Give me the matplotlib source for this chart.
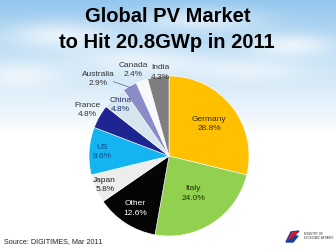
import matplotlib.pyplot as plt
import numpy as np
from matplotlib.patches import Polygon

# data
countries = ["Germany", "Italy", "Other", "Japan", "US", "France",
             "China", "Australia", "Canada", "India"]
shares = [28.8, 24.0, 12.6, 5.8, 9.6, 4.8, 4.8, 2.9, 2.4, 4.3]
colors = ["#FFC000", "#92D050", "#050505", "#EDEDED", "#14B4F0", "#1E2591",
          "#D7E6EE", "#8A8CC8", "#F8F8FC", "#7F7F7F"]
text_colors = ["#3a3000", "#1f3300", "white", "#222222", "#1a3f8a", "#333333",
               "#1a2f6a", "#333333", "#333333", "#333333"]
label_r = [0.64, 0.56, 0.78, 0.88, 0.84, 1.17, 0.88, 1.31, 1.16, 1.05]
label_ang = {"Australia": 132.7, "Canada": 112.5, "India": 96.0}

plt.rcParams["font.family"] = ["Liberation Sans", "DejaVu Sans"]

fig = plt.figure(figsize=(3.36, 2.52), dpi=100)

# sky background fading into white
bg = fig.add_axes([0, 0, 1, 1])
h, w = 252, 336
yy, xx = np.mgrid[0:h, 0:w]
t = np.clip(yy / 135.0, 0, 1)
sky = np.array([0.58, 0.78, 0.93])
img = sky[None, None, :] * (1 - t[..., None]) + t[..., None]
clouds = np.zeros((h, w))
for cx, cy, sx, sy, a in [(60, 35, 55, 14, 0.7), (200, 20, 60, 12, 0.6),
                          (290, 45, 45, 12, 0.7), (140, 60, 70, 14, 0.6),
                          (20, 75, 40, 14, 0.6), (250, 70, 60, 12, 0.5)]:
    clouds += a * np.exp(-(((xx - cx) / sx) ** 2 + ((yy - cy) / sy) ** 2))
clouds = np.clip(clouds, 0, 1)[..., None]
img = img * (1 - clouds) + clouds
bg.imshow(img, extent=[0, w, h, 0], aspect="auto")
bg.set_xlim(0, w)
bg.set_ylim(h, 0)
bg.axis("off")

# title
bg.text(168, 17, "Global PV Market", ha="center", va="center",
        fontsize=14.5, fontweight="bold", color="black")
bg.text(167, 43, "to Hit 20.8GWp in 2011", ha="center", va="center",
        fontsize=14.5, fontweight="bold", color="black")

# source
bg.text(4, 242, "Source: DIGITIMES, Mar 2011", ha="left", va="center",
        fontsize=5.2, color="#222222")

# small logo
bg.add_patch(Polygon([[286, 242], [291, 232], [299, 231], [294, 236], [298, 236], [293, 242]],
                     closed=True, color="#1d3f9a"))
bg.add_patch(Polygon([[289, 239], [292, 233], [297, 232], [293, 236]],
                     closed=True, color="#d81e2a"))
bg.text(304, 236, "MINISTRY OF\nECONOMIC AFFAIRS", ha="left", va="center",
        fontsize=2.2, color="#333333", linespacing=1.0)

# pie
ax = fig.add_axes([89 / 336, 16 / 252, 160 / 336, 160 / 252])
wedges, _ = ax.pie(shares, colors=colors, startangle=90, counterclock=False,
                   radius=1.0, wedgeprops=dict(edgecolor="white", linewidth=0.4))
ax.set_xlim(-1, 1)
ax.set_ylim(-1, 1)
ax.set_aspect("equal")
ax.axis("off")

for i, wdg in enumerate(wedges):
    ang = np.deg2rad(label_ang.get(countries[i], (wdg.theta1 + wdg.theta2) / 2))
    r = label_r[i]
    x, y = r * np.cos(ang), r * np.sin(ang)
    ax.text(x, y, f"{countries[i]}\n{shares[i]:.1f}%", ha="center", va="center",
            fontsize=6.0, color=text_colors[i], linespacing=1.45, clip_on=False)

# leader line for Australia
w_au = wedges[countries.index("Australia")]
a_mid = np.deg2rad((w_au.theta1 + w_au.theta2) / 2)
ax.plot([1.13 * np.cos(np.deg2rad(128)), 0.98 * np.cos(a_mid)],
        [1.13 * np.sin(np.deg2rad(128)) + 0.04, 0.98 * np.sin(a_mid)],
        color="#666666", lw=0.5, clip_on=False)

fig.savefig("out.png", dpi=100)
